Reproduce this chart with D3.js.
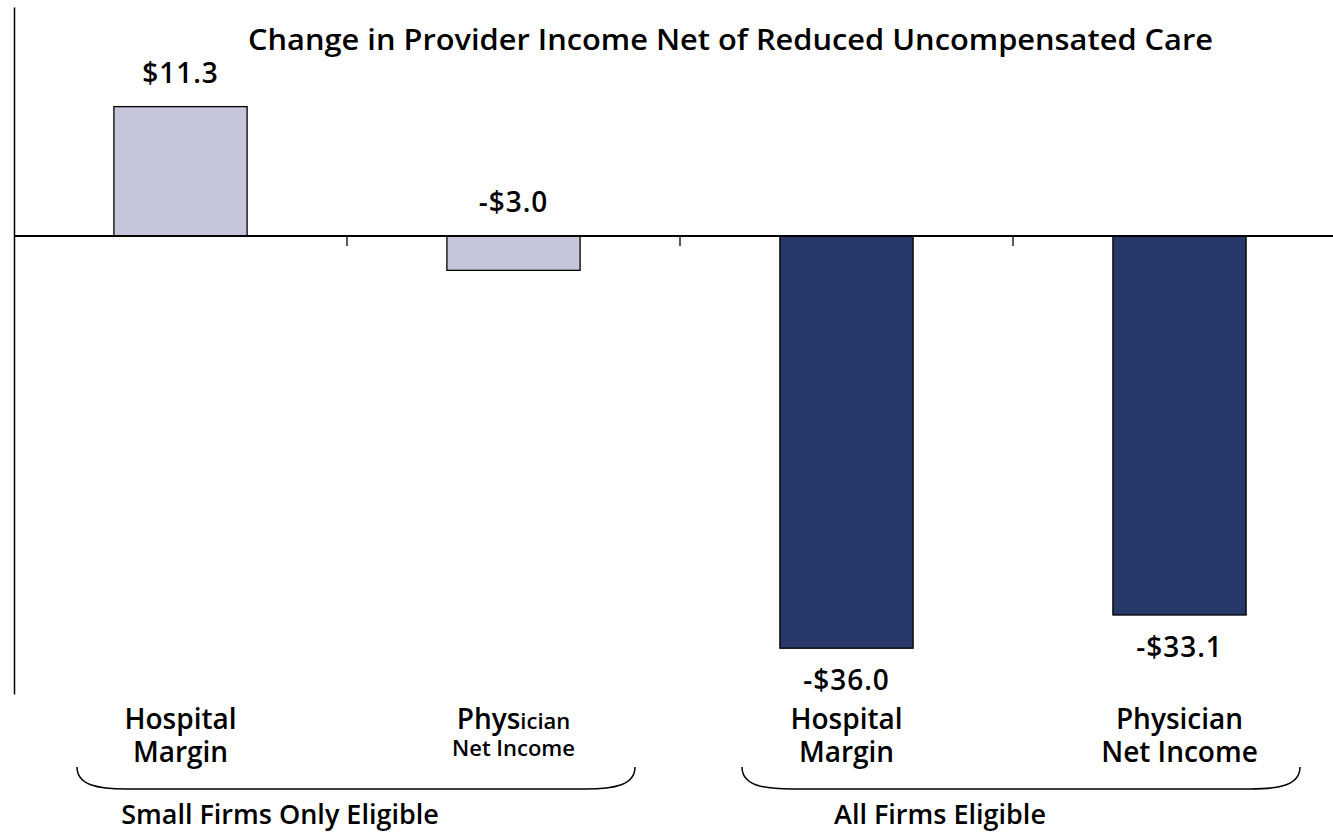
<!DOCTYPE html>
<html>
<head>
<meta charset="utf-8">
<script src="https://cdn.jsdelivr.net/npm/d3@7"></script>
<style>
  body { margin: 0; background: #fff; }
  svg text { font-family: "Open Sans", "Noto Sans", sans-serif; font-weight: 600; fill: #000; }
</style>
</head>
<body>
<svg width="1333" height="832"></svg>
<script>
var categories = ["sm-hosp", "sm-phys", "all-hosp", "all-phys"];
var values = [11.3, -3.0, -36.0, -33.1];
var valueLabels = ["$11.3", "-$3.0", "-$36.0", "-$33.1"];
var groups = ["Small Firms Only Eligible", "All Firms Eligible"];
var barGroup = [0, 0, 1, 1];
var title = "Change in Provider Income Net of Reduced Uncompensated Care";

var svg = d3.select("svg"),
    width = +svg.attr("width"),
    height = +svg.attr("height");

var colors = ["#c5c6da", "#283868"];

var x = d3.scaleBand()
    .domain(categories)
    .range([14, 1346])
    .paddingInner(0.6)
    .paddingOuter(0.3);

var y = d3.scaleLinear()
    .domain([-40, 20])
    .range([694, 7]);

// y axis, just the line
svg.append("g")
    .attr("transform", "translate(14,0)")
    .call(d3.axisLeft(y).tickValues([]).tickSizeOuter(0))
    .select(".domain").attr("stroke", "#000").attr("stroke-width", 1.5);

// bars
svg.selectAll(".bar").data(values)
  .enter().append("rect")
    .attr("class", "bar")
    .attr("x", function(d, i) { return x(categories[i]); })
    .attr("width", x.bandwidth())
    .attr("y", function(d) { return y(Math.max(0, d)); })
    .attr("height", function(d) { return Math.abs(y(d) - y(0)); })
    .attr("fill", function(d, i) { return colors[barGroup[i]]; })
    .attr("stroke", "#000")
    .attr("stroke-width", 1.3);

// zero line with ticks between categories
var zero = svg.append("g");
zero.append("line")
    .attr("x1", 14).attr("x2", width)
    .attr("y1", y(0)).attr("y2", y(0))
    .attr("stroke", "#000").attr("stroke-width", 2);
zero.selectAll(".tick").data(categories.slice(0, 3))
  .enter().append("line")
    .attr("x1", function(d) { return x(d) + x.bandwidth() + (x.step() - x.bandwidth()) / 2; })
    .attr("x2", function(d) { return x(d) + x.bandwidth() + (x.step() - x.bandwidth()) / 2; })
    .attr("y1", y(0)).attr("y2", y(0) + 10)
    .attr("stroke", "#000").attr("stroke-width", 1.3);

// value labels: above the zero line / bar top, below the bottom of long bars
function labelY(d) {
  if (d > 0) return y(d) - 24;
  if (d > -10) return y(0) - 24;
  return y(d) + 42;
}
svg.selectAll(".val").data(values)
  .enter().append("text")
    .attr("class", "val")
    .attr("x", function(d, i) { return x(categories[i]) + x.bandwidth() / 2; })
    .attr("y", labelY)
    .attr("text-anchor", "middle")
    .style("font-size", "28px")
    .style("letter-spacing", "1px")
    .text(function(d, i) { return valueLabels[i]; });

// title
svg.append("text")
    .attr("x", 248).attr("y", 50)
    .attr("textLength", 965)
    .attr("lengthAdjust", "spacingAndGlyphs")
    .style("font-size", "28px")
    .text(title);

// category labels
var cx = function(i) { return x(categories[i]) + x.bandwidth() / 2; };
function twoLines(i, a, b) {
  var t = svg.append("text").attr("text-anchor", "middle");
  t.append("tspan").attr("x", cx(i)).attr("y", 729).style("font-size", "28px").text(a);
  t.append("tspan").attr("x", cx(i)).attr("y", 762).style("font-size", "28px").text(b);
}
twoLines(0, "Hospital", "Margin");
// the small-firms physician label has mixed sizes
var p = svg.append("text").attr("text-anchor", "middle");
p.append("tspan").attr("x", cx(1)).attr("y", 729).style("font-size", "28px").text("Phys")
  .append("tspan").style("font-size", "22px").text("ician");
p.append("tspan").attr("x", cx(1)).attr("y", 756).style("font-size", "22px").text("Net Income");
twoLines(2, "Hospital", "Margin");
twoLines(3, "Physician", "Net Income");

// braces under each group
var braces = [[77, 635], [742, 1300]];
var groupTextX = [280, 940];
braces.forEach(function(b, gi) {
  var top = 767, bot = 789, r = 50;
  var path = d3.path();
  path.moveTo(b[0], top);
  path.bezierCurveTo(b[0], bot - 4, b[0] + 20, bot, b[0] + r, bot);
  path.lineTo(b[1] - r, bot);
  path.bezierCurveTo(b[1] - 20, bot, b[1], bot - 4, b[1], top);
  svg.append("path").attr("d", path.toString())
      .attr("fill", "none").attr("stroke", "#000").attr("stroke-width", 1.5);
  svg.append("text")
      .attr("x", groupTextX[gi]).attr("y", 824)
      .attr("text-anchor", "middle")
      .style("font-size", "27px")
      .text(groups[gi]);
});
</script>
</body>
</html>
